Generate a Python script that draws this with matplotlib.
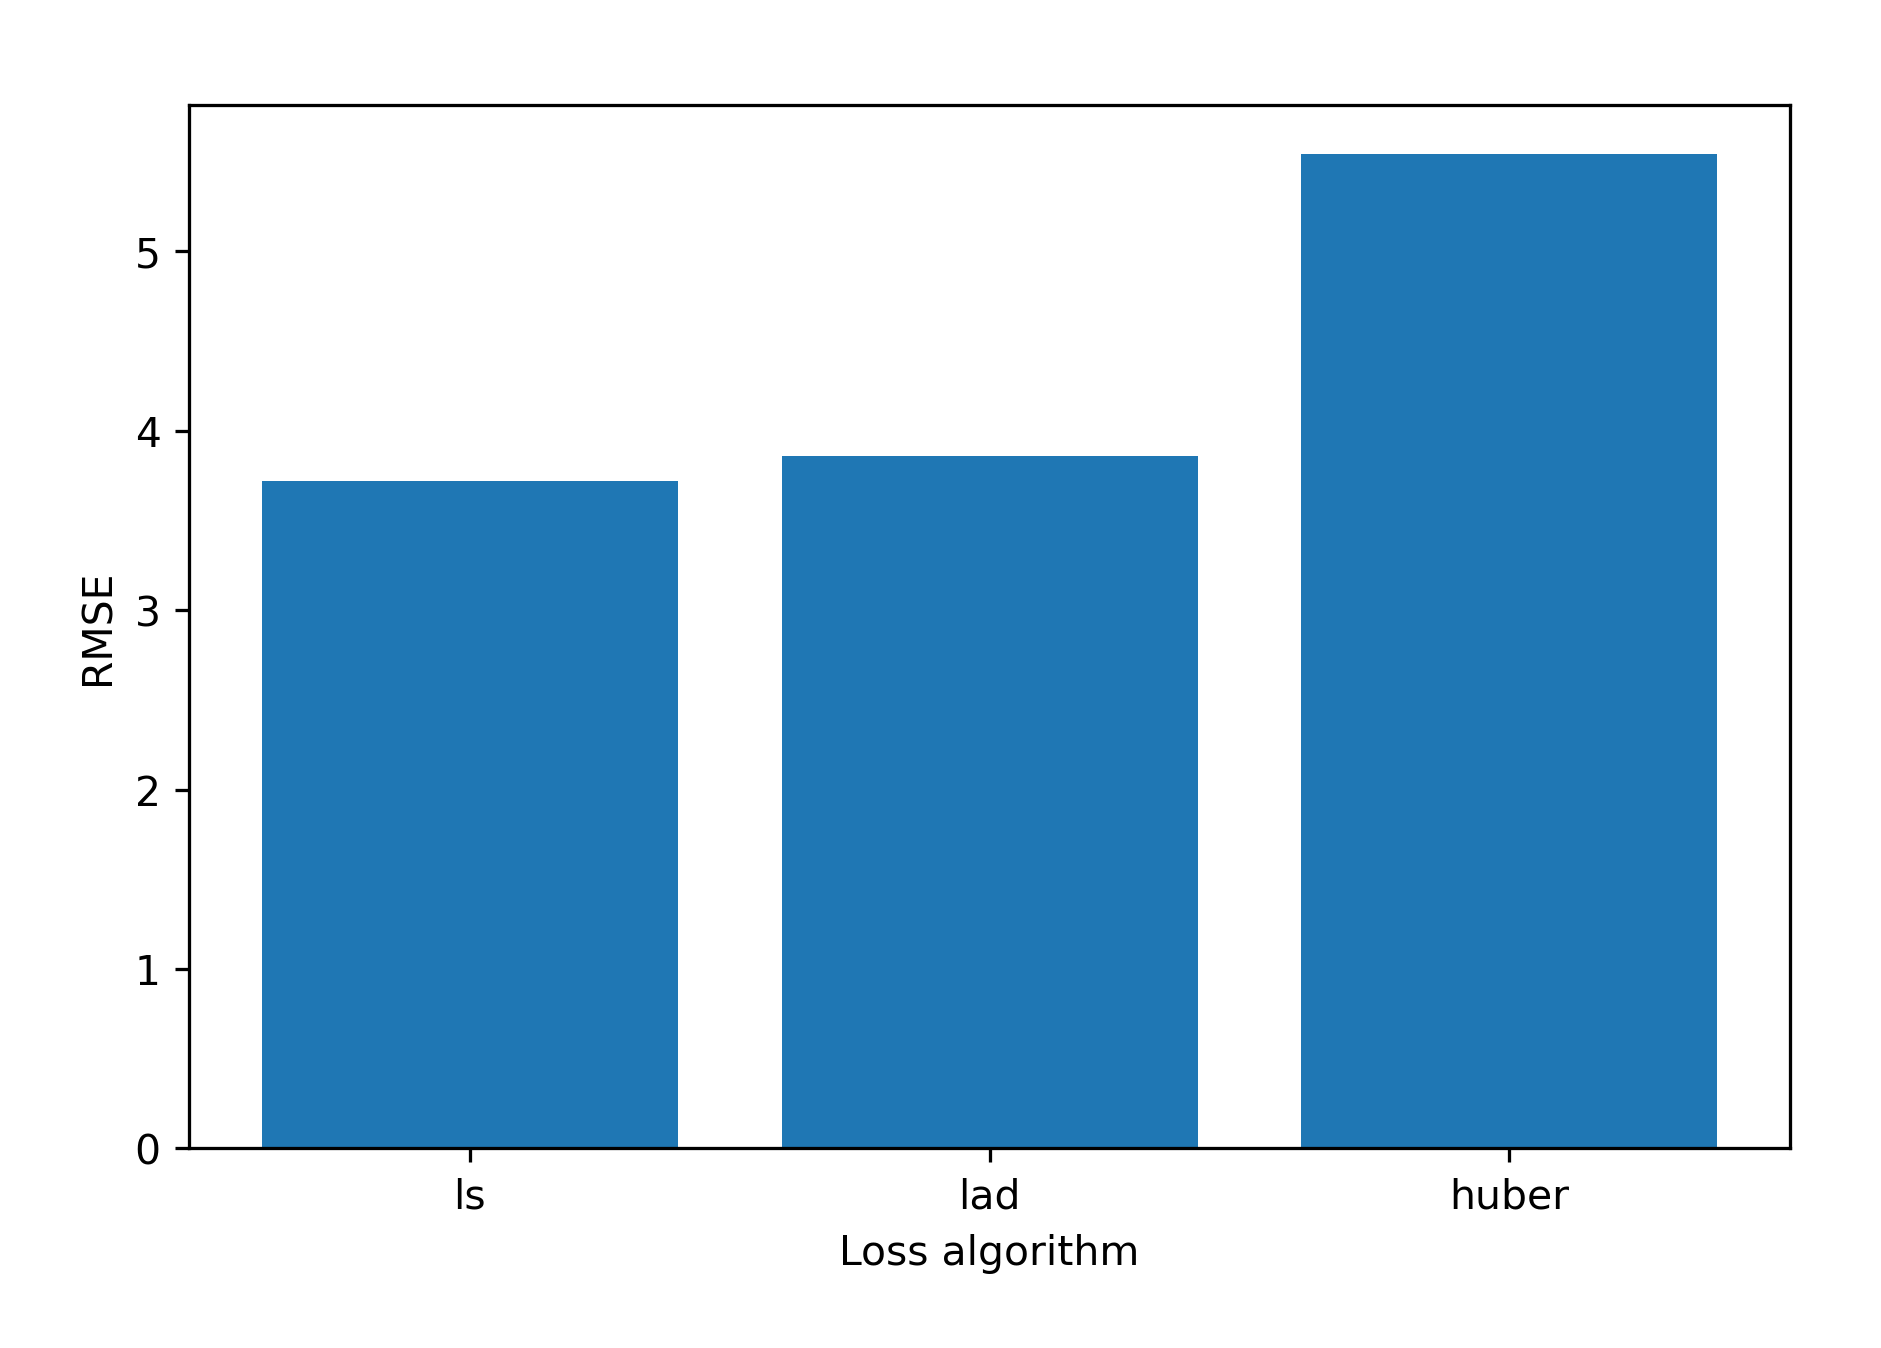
import matplotlib
matplotlib.use("Agg")
import matplotlib.pyplot as plt

losses = ["ls", "lad", "huber"]
rmse = [3.72, 3.86, 5.54]

fig = plt.figure(figsize=(6.4, 4.587), dpi=294)
ax = fig.add_axes([0.1006, 0.148, 0.8507, 0.774])
ax.bar(losses, rmse, color="#1f77b4")
ax.set_xlabel("Loss algorithm")
ax.set_ylabel("RMSE")
fig.savefig("out.png", dpi=294)
